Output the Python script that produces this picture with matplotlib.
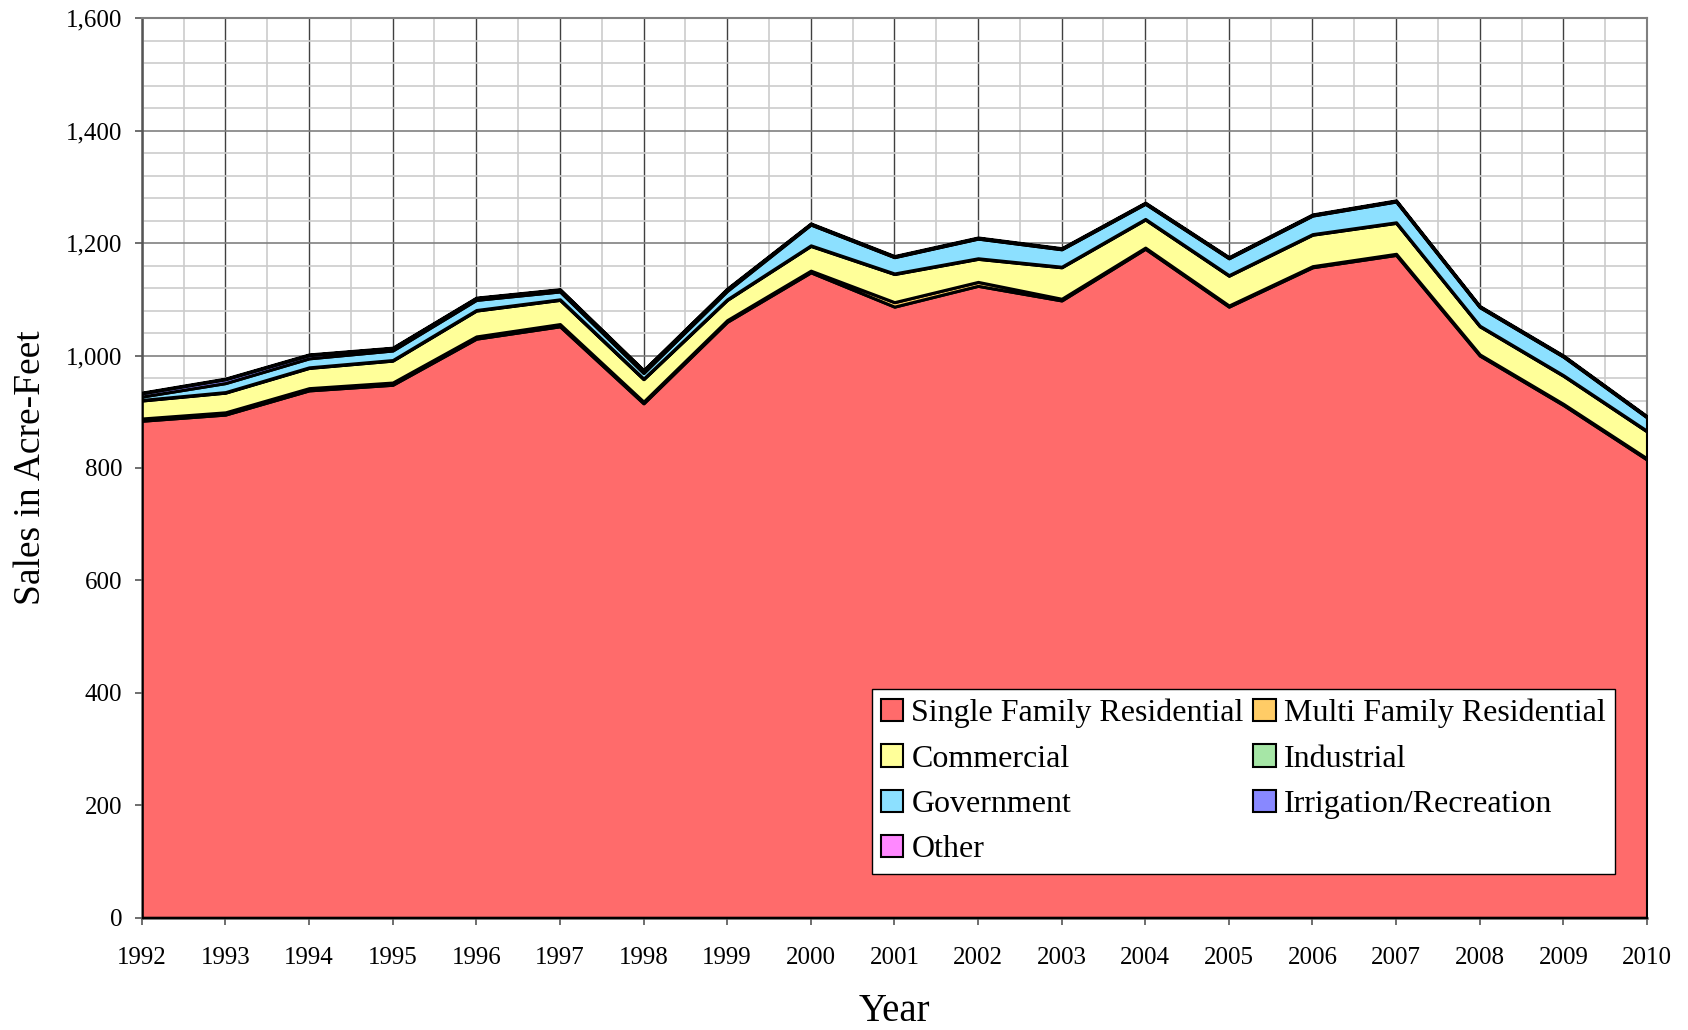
import matplotlib
matplotlib.use("Agg")
import matplotlib.pyplot as plt
from matplotlib.ticker import MultipleLocator, FuncFormatter
from matplotlib.patches import Patch

plt.rcParams['font.family'] = ['Liberation Serif', 'DejaVu Serif']

# sales in acre-feet by customer class
years = list(range(1992, 2011))
single_family = [884, 895, 938, 948, 1030, 1052, 915, 1060, 1148, 1087,
                 1124, 1098, 1190, 1087, 1157, 1179, 1000, 912, 815]
multi_family = [4, 4, 4, 4, 4, 4, 3, 3, 3, 8, 7, 3, 2, 2, 2, 2, 2, 2, 2]
commercial = [32, 35, 36, 39, 46, 43, 40, 36, 44, 50, 41, 56, 50, 53, 56, 55, 50, 50, 48]
industrial = [1, 1, 1, 1, 1, 1, 1, 1, 1, 1, 1, 1, 1, 1, 1, 1, 1, 1, 1]
government = [6, 16, 16, 17, 18, 14, 10, 15, 37, 29, 35, 31, 27, 30, 33, 37, 33, 33, 24]
irrigation = [6, 7, 6, 4, 3, 3, 4, 3, 1, 1, 1, 1, 1, 1, 1, 1, 1, 1, 1]
other = [1, 1, 1, 1, 1, 1, 1, 1, 1, 1, 1, 1, 1, 1, 1, 1, 1, 1, 1]

labels = ['Single Family Residential', 'Multi Family Residential', 'Commercial',
          'Industrial', 'Government', 'Irrigation/Recreation', 'Other']
colors = ['#FF6B6B', '#FFCC66', '#FFFF99', '#A6E6A6', '#8CE0FF', '#8888FF', '#FF88FF']

fig = plt.figure(figsize=(16.88, 10.30), dpi=100)
ax = fig.add_axes([0.084, 0.109, 0.8917, 0.8733])

polys = ax.stackplot(years, single_family, multi_family, commercial, industrial,
                     government, irrigation, other, colors=colors,
                     edgecolor='black', linewidth=2.2, zorder=3)

ax.set_xlim(1992, 2010)
ax.set_ylim(0, 1600)
ax.xaxis.set_major_locator(MultipleLocator(1))
ax.xaxis.set_minor_locator(MultipleLocator(0.5))
ax.yaxis.set_major_locator(MultipleLocator(200))
ax.yaxis.set_minor_locator(MultipleLocator(40))
ax.yaxis.set_major_formatter(FuncFormatter(lambda v, p: f'{int(v):,}'))

ax.grid(which='major', axis='x', color='#404040', linewidth=1.0, zorder=1)
ax.grid(which='minor', axis='x', color='#cccccc', linewidth=1.2, zorder=0)
ax.grid(which='major', axis='y', color='#808080', linewidth=1.2, zorder=1)
ax.grid(which='minor', axis='y', color='#cccccc', linewidth=1.2, zorder=0)
ax.set_axisbelow(True)

ax.tick_params(axis='both', which='major', direction='out', length=5, width=1.2,
               color='#555555', labelsize=18)
ax.tick_params(axis='x', which='major', pad=16)
ax.tick_params(axis='y', which='major', pad=9)
ax.tick_params(which='minor', length=0)

for side in ['top', 'right']:
    ax.spines[side].set_color('#808080')
    ax.spines[side].set_linewidth(1.5)
for side in ['left', 'bottom']:
    ax.spines[side].set_color('#555555')
    ax.spines[side].set_linewidth(1.8)

ax.set_xlabel('Year', fontsize=28, labelpad=17)
ax.set_ylabel('Sales in Acre-Feet', fontsize=27, labelpad=13)

# legend filled column by column: left column first four, right column the rest
order = [0, 2, 4, 6, 1, 3, 5]
handles = [Patch(facecolor=colors[i], edgecolor='black', linewidth=1.5) for i in order]
leg = ax.legend(handles, [labels[i] for i in order], ncol=2, loc='lower right',
                bbox_to_anchor=(0.9788, 0.0486), fontsize=23, frameon=True,
                fancybox=False, edgecolor='black', framealpha=1.0,
                handlelength=0.7, handleheight=0.7, handletextpad=0.25,
                columnspacing=0.3, labelspacing=0.5, borderpad=0.3,
                borderaxespad=0)
leg.get_frame().set_linewidth(1.0)
leg.set_zorder(5)

fig.savefig('out.png', dpi=100)
